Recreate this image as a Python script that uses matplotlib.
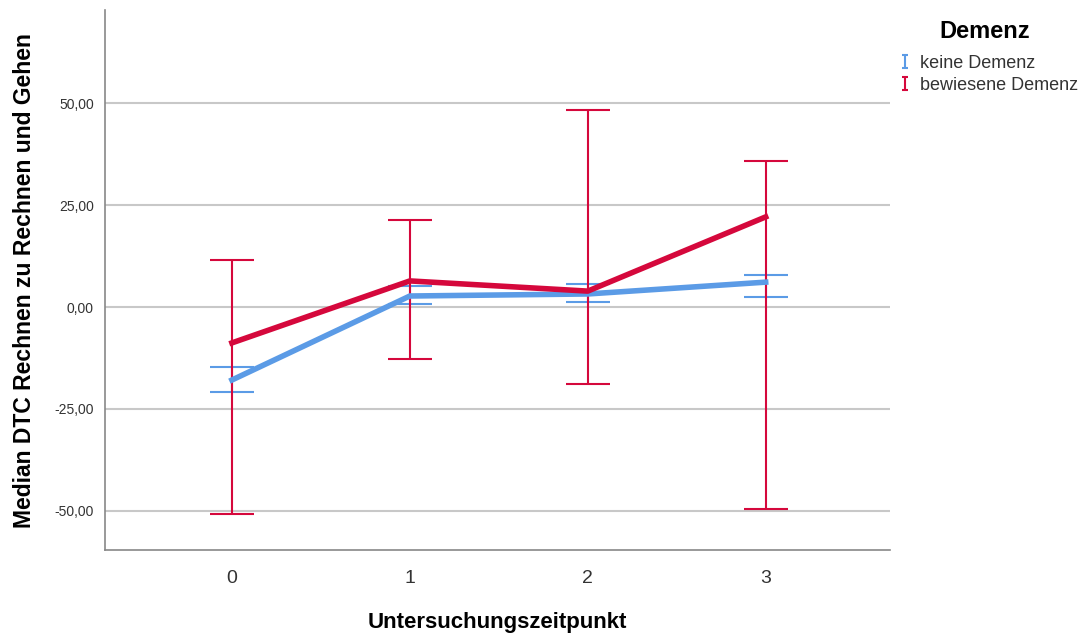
import matplotlib
matplotlib.use("Agg")
import numpy as np
import matplotlib.pyplot as plt
from matplotlib.ticker import FuncFormatter
from matplotlib.legend_handler import HandlerErrorbar

plt.rcParams["font.family"] = ["Liberation Sans", "DejaVu Sans"]

timepoints = [0, 1, 2, 3]
groups = ["keine Demenz", "bewiesene Demenz"]
colors = ["#5b9be6", "#d5083c"]

# median per timepoint and the error bar ends
median_keine = [-17.9, 2.7, 3.2, 6.1]
upper_keine = [-14.7, 5.1, 5.6, 7.8]
lower_keine = [-20.8, 0.7, 1.2, 2.5]

median_bew = [-8.8, 6.4, 3.9, 22.1]
upper_bew = [11.5, 21.3, 48.3, 35.8]
lower_bew = [-50.7, -12.7, -18.9, -49.5]

yticks = [-50, -25, 0, 25, 50]


def main():
    fig = plt.figure(figsize=(10.83, 6.33), dpi=100)
    ax = fig.add_axes([0.097, 0.131, 0.725, 0.853])

    series = [
        (median_keine, lower_keine, upper_keine),
        (median_bew, lower_bew, upper_bew),
    ]
    handles = []
    for (med, lo, hi), col, name in zip(series, colors, groups):
        yerr = [[m - l for m, l in zip(med, lo)], [h - m for m, h in zip(med, hi)]]
        ax.errorbar(timepoints, med, yerr=yerr, fmt="none", ecolor=col,
                    elinewidth=1.5, capsize=16, capthick=1.5, zorder=3)
        ax.plot(timepoints, med, color=col, lw=4, zorder=4)
        # small dummy errorbar just for the legend symbol
        handles.append(ax.errorbar([np.nan], [np.nan], yerr=[1], fmt="none",
                                   ecolor=col, elinewidth=1.5, capsize=2.5,
                                   capthick=1.5))

    ax.set_xlim(-0.713, 3.70)
    ax.set_ylim(-59.6, 72.8)
    ax.set_xticks(timepoints)
    ax.set_yticks(yticks)
    ax.yaxis.set_major_formatter(FuncFormatter(lambda v, p: f"{v:.2f}".replace(".", ",")))
    ax.tick_params(axis="both", length=0)
    ax.tick_params(axis="y", labelsize=10, colors="#333333", pad=8)
    ax.tick_params(axis="x", labelsize=14, colors="#333333", pad=14)
    ax.grid(axis="y", color="#c8c8c8", lw=1.5)
    ax.set_axisbelow(True)
    for s in ["top", "right"]:
        ax.spines[s].set_visible(False)
    for s in ["left", "bottom"]:
        ax.spines[s].set_color("#888888")
        ax.spines[s].set_linewidth(1.2)

    ax.set_xlabel("Untersuchungszeitpunkt", fontsize=16, fontweight="bold", labelpad=18)
    ax.set_ylabel("Median DTC Rechnen zu Rechnen und Gehen", fontsize=16.5,
                  fontweight="bold", labelpad=13)

    fig.text(985 / 1083, 1 - 31 / 633, "Demenz", fontsize=17, fontweight="bold",
             ha="center", va="center")
    leg = fig.legend(handles=handles, labels=groups, loc="upper left",
                     bbox_to_anchor=(0.829, 0.913), frameon=False, fontsize=13,
                     handlelength=0.8, handletextpad=0.45, labelspacing=0.28,
                     borderaxespad=0, borderpad=0,
                     handler_map={type(handles[0]): HandlerErrorbar(xerr_size=0.35)})
    for t in leg.get_texts():
        t.set_color("#333333")

    fig.savefig("out.png", dpi=100)
    plt.close(fig)


if __name__ == "__main__":
    main()
